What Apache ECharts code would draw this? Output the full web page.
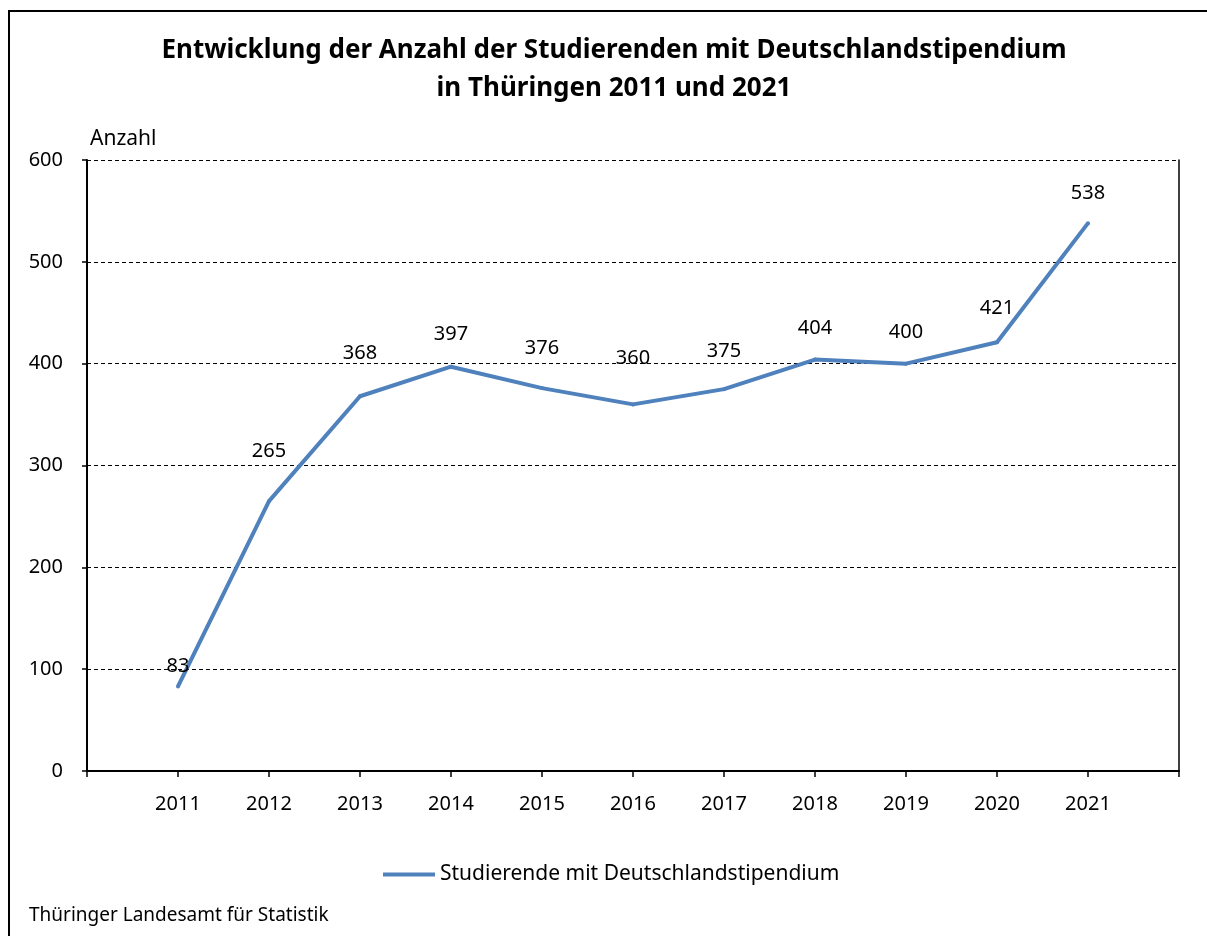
<!DOCTYPE html>
<html>
<head>
<meta charset="utf-8">
<script src="https://cdn.jsdelivr.net/npm/echarts@6/dist/echarts.min.js"></script>
<style>
  html, body { margin: 0; padding: 0; background: #fff; }
  #chart { width: 1207px; height: 936px; }
</style>
</head>
<body>
<div id="chart"></div>
<script>
// Studierende mit Deutschlandstipendium, Thüringen
const years = [2011, 2012, 2013, 2014, 2015, 2016, 2017, 2018, 2019, 2020, 2021];
const students = [83, 265, 368, 397, 376, 360, 375, 404, 400, 421, 538];
// how far each value label sits above its point (px), like in the original
const labelGap = [8, 38, 31, 20, 28, 34, 26, 19, 19, 22, 18];

const font = '"Noto Sans", "Open Sans", sans-serif';
const chart = echarts.init(document.getElementById("chart"));

let option = {
  backgroundColor: "#fff",
  animation: false,
  textStyle: { fontFamily: font, color: "#000" },
  grid: { left: 87, right: 28, top: 160, bottom: 165 },
  xAxis: {
    type: "value",
    min: 2010,
    max: 2022,
    interval: 1,
    axisLine: { lineStyle: { color: "#000", width: 2 } },
    axisTick: { length: 6, lineStyle: { color: "#000", width: 1.5 } },
    axisLabel: {
      fontSize: 20,
      color: "#000",
      margin: 23,
      formatter: (v) => (v === 2010 || v === 2022 ? "" : String(v)),
    },
    splitLine: { show: false },
  },
  yAxis: [
    {
      type: "value",
      min: 0,
      max: 600,
      interval: 100,
      axisLine: { show: true, lineStyle: { color: "#000", width: 2 } },
      axisTick: { show: true, length: 5, lineStyle: { color: "#000", width: 1.5 } },
      axisLabel: { fontSize: 20, color: "#000", margin: 24 },
      splitLine: { lineStyle: { color: "#000", type: [4, 3], width: 1 } },
    },
    {
      type: "value",
      position: "right",
      min: 0,
      max: 600,
      interval: 100,
      axisLine: { show: true, lineStyle: { color: "#000", width: 1.5 } },
      axisTick: { show: false },
      axisLabel: { show: false },
      splitLine: { show: false },
    },
  ],
  legend: {
    top: 859,
    left: 378,
    icon: "rect",
    itemWidth: 52,
    itemHeight: 4,
    itemGap: 10,
    itemStyle: { color: "#4f81bd", opacity: 1 },
    textStyle: { fontSize: 21, color: "#000", fontFamily: font },
    data: ["Studierende mit Deutschlandstipendium"],
  },
  graphic: [
    {
      type: "rect",
      shape: { x: 9, y: 11, width: 1300, height: 1000 },
      style: { fill: "none", stroke: "#000", lineWidth: 2 },
      silent: true,
    },
    {
      type: "text",
      x: 614,
      y: 32,
      style: {
        text: "Entwicklung der Anzahl der Studierenden mit Deutschlandstipendium\nin Thüringen 2011 und 2021",
        fontFamily: font,
        fontSize: 26,
        fontWeight: "bold",
        lineHeight: 38,
        fill: "#000",
        textAlign: "center",
      },
    },
    {
      type: "text",
      x: 90,
      y: 129,
      style: { text: "Anzahl", fontFamily: font, fontSize: 21, fill: "#000" },
    },
    {
      type: "text",
      x: 29,
      y: 906,
      style: { text: "Thüringer Landesamt für Statistik", fontFamily: font, fontSize: 19, fill: "#000" },
    },
  ],
  series: [
    {
      name: "Studierende mit Deutschlandstipendium",
      type: "line",
      symbol: "circle",
      symbolSize: 4,
      data: years.map((y, i) => ({
        value: [y, students[i]],
        label: { distance: labelGap[i] },
      })),
      lineStyle: { color: "#4f81bd", width: 4 },
      itemStyle: { color: "#4f81bd" },
      label: {
        show: true,
        position: "top",
        fontSize: 20,
        color: "#000",
        fontFamily: font,
        formatter: (p) => String(p.value[1]),
      },
    },
  ],
};

chart.setOption(option);
</script>
</body>
</html>
